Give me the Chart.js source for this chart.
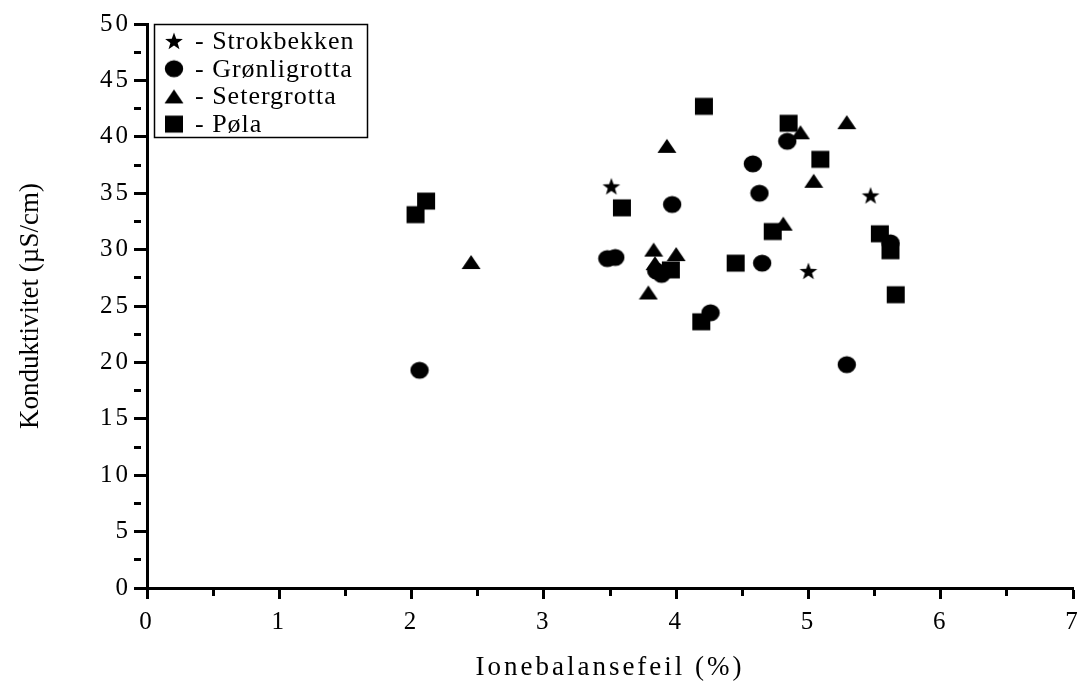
<!DOCTYPE html>
<html>
<head>
<meta charset="utf-8">
<script src="https://cdn.jsdelivr.net/npm/chart.js@4/dist/chart.umd.min.js"></script>
<style>
  html, body { margin: 0; padding: 0; background: #fff; }
  #wrap { width: 1078px; height: 684px; }
</style>
</head>
<body>
<div id="wrap"><canvas id="chart" width="1078" height="684"></canvas></div>
<script>
// data (x = Ionebalansefeil %, y = Konduktivitet uS/cm)
const strokX = [3.51, 5.47, 5.00];
const strokY = [35.6, 34.8, 28.1];

const gronX = [2.06, 3.48, 3.54, 3.97, 4.58, 4.84, 4.63, 5.62, 3.85, 3.89, 4.65, 4.26, 5.29];
const gronY = [19.3, 29.2, 29.3, 34.0, 37.6, 39.6, 35.0, 30.6, 28.1, 27.8, 28.8, 24.4, 19.8];

const seterX = [2.45, 3.79, 3.83, 3.84, 3.93, 4.00, 4.81, 4.94, 5.04, 5.29];
const seterY = [28.9, 26.2, 30.0, 28.8, 39.2, 29.6, 32.3, 40.4, 36.1, 41.3];

const polaX = [2.03, 2.11, 3.59, 3.96, 4.19, 4.21, 4.45, 4.73, 4.85, 5.09, 5.54, 5.62, 5.66];
const polaY = [33.1, 34.3, 33.7, 28.2, 23.6, 42.7, 28.8, 31.6, 41.2, 38.0, 31.4, 29.9, 26.0];

const seriesNames = ['Strokbekken', 'Grønligrotta', 'Setergrotta', 'Pøla'];
const xTickLabels = ['0', '1', '2', '3', '4', '5', '6', '7'];
const yTickLabels = ['0', '5', '10', '15', '20', '25', '30', '35', '40', '45', '50'];

const FONT = '"Liberation Serif", "Times New Roman", serif';

// filled black marker shapes, drawn once on small canvases
function makeMarker(shape) {
    const c = document.createElement('canvas');
    c.width = 20;
    c.height = 20;
    const g = c.getContext('2d');
    g.fillStyle = '#000';
    g.beginPath();
    if (shape === 'circle') {
        g.ellipse(10, 10, 9.2, 8.6, 0, 0, Math.PI * 2);
    } else if (shape === 'rect') {
        g.rect(1, 1.5, 18, 17);
    } else if (shape === 'triangle') {
        g.moveTo(10, 3);
        g.lineTo(19.5, 17);
        g.lineTo(0.5, 17);
        g.closePath();
    } else if (shape === 'star') {
        const cx = 10, cy = 10.8, ro = 9.3, ri = 3.8;
        for (let i = 0; i < 10; i++) {
            const r = i % 2 === 0 ? ro : ri;
            const a = -Math.PI / 2 + i * Math.PI / 5;
            const px = cx + r * Math.cos(a);
            const py = cy + r * Math.sin(a);
            if (i === 0) g.moveTo(px, py); else g.lineTo(px, py);
        }
        g.closePath();
    }
    g.fill();
    return c;
}

function toPoints(xs, ys) {
    return xs.map((x, i) => ({ x: x, y: ys[i] }));
}

const markers = [makeMarker('star'), makeMarker('circle'), makeMarker('triangle'), makeMarker('rect')];
const seriesData = [
    toPoints(strokX, strokY),
    toPoints(gronX, gronY),
    toPoints(seterX, seterY),
    toPoints(polaX, polaY)
];

// spaced-out lettering like the reference on the axes, but not on the y title
const spacing = {
    id: 'spacing',
    afterLayout(chart) {
        const ys = chart.scales.y;
        if (ys && !ys._plainTitle) {
            const orig = ys.drawTitle;
            ys.drawTitle = function() {
                const old = this.ctx.letterSpacing;
                this.ctx.letterSpacing = '0px';
                orig.apply(this, arguments);
                this.ctx.letterSpacing = old;
            };
            ys._plainTitle = true;
        }
    },
    beforeDraw(chart) { chart.ctx.letterSpacing = '3px'; },
    beforeDatasetsDraw(chart) { chart.ctx.letterSpacing = '0px'; }
};

// boxed legend in the top left corner of the plot
const legendBox = {
    id: 'legendBox',
    afterDraw(chart) {
        const ctx = chart.ctx;
        ctx.save();
        ctx.letterSpacing = '1px';
        ctx.lineWidth = 1.5;
        ctx.strokeStyle = '#000';
        ctx.strokeRect(154.5, 24.5, 213, 113);
        ctx.font = '26px ' + FONT;
        ctx.textBaseline = 'middle';
        ctx.fillStyle = '#000';
        chart.data.datasets.forEach((ds, i) => {
            const y = 41 + i * 27.7;
            ctx.drawImage(ds.pointStyle, 164, y - 10);
            ctx.fillText('- ' + ds.label, 195, y + 1);
        });
        ctx.restore();
    }
};

function isWhole(v) {
    return Math.abs(v - Math.round(v)) < 1e-9;
}

const ctx = document.getElementById('chart').getContext('2d');
new Chart(ctx, {
    type: 'scatter',
    data: {
        datasets: seriesNames.map((name, i) => ({
            label: name,
            data: seriesData[i],
            pointStyle: markers[i],
            pointRadius: 9,
            pointHoverRadius: 9,
            backgroundColor: '#000',
            borderColor: '#000'
        }))
    },
    options: {
        responsive: false,
        animation: false,
        devicePixelRatio: 1,
        layout: { autoPadding: false, padding: { left: 0, right: 5, top: 24, bottom: 0 } },
        plugins: {
            legend: { display: false },
            tooltip: { enabled: false }
        },
        scales: {
            x: {
                type: 'linear',
                min: 0,
                max: 7,
                afterFit: function(scale) {
                    scale.height = 96;
                    scale.paddingLeft = 0;
                    scale.paddingRight = 0;
                },
                border: { display: true, color: '#000', width: 3 },
                grid: {
                    drawOnChartArea: false,
                    drawTicks: true,
                    tickLength: 11,
                    tickWidth: 3,
                    tickColor: '#000',
                    tickBorderDash: c => isWhole(c.tick.value) ? [] : [6, 40]
                },
                ticks: {
                    stepSize: 0.5,
                    autoSkip: false,
                    maxTicksLimit: 100,
                    maxRotation: 0,
                    padding: 8,
                    color: '#000',
                    font: { family: FONT, size: 25 },
                    callback: v => isWhole(v) ? xTickLabels[Math.round(v)] : ''
                },
                title: {
                    display: true,
                    text: 'Ionebalansefeil (%)',
                    color: '#000',
                    font: { family: FONT, size: 27 },
                    padding: { top: 0, bottom: 0 }
                }
            },
            y: {
                type: 'linear',
                min: 0,
                max: 50,
                afterFit: function(scale) { scale.width = 147; },
                border: { display: true, color: '#000', width: 3 },
                grid: {
                    drawOnChartArea: false,
                    drawTicks: true,
                    tickLength: 13,
                    tickWidth: 3,
                    tickColor: '#000',
                    tickBorderDash: c => (Math.abs(c.tick.value % 5) < 1e-9) ? [] : [7, 40]
                },
                ticks: {
                    stepSize: 2.5,
                    autoSkip: false,
                    maxTicksLimit: 100,
                    padding: 3,
                    color: '#000',
                    font: { family: FONT, size: 25 },
                    callback: v => (Math.abs(v % 5) < 1e-9) ? yTickLabels[Math.round(v / 5)] : ''
                },
                title: {
                    display: true,
                    text: 'Konduktivitet (µS/cm)',
                    color: '#000',
                    font: { family: FONT, size: 27 },
                    padding: { top: 15, bottom: 0 }
                }
            }
        }
    },
    plugins: [spacing, legendBox]
});
</script>
</body>
</html>
